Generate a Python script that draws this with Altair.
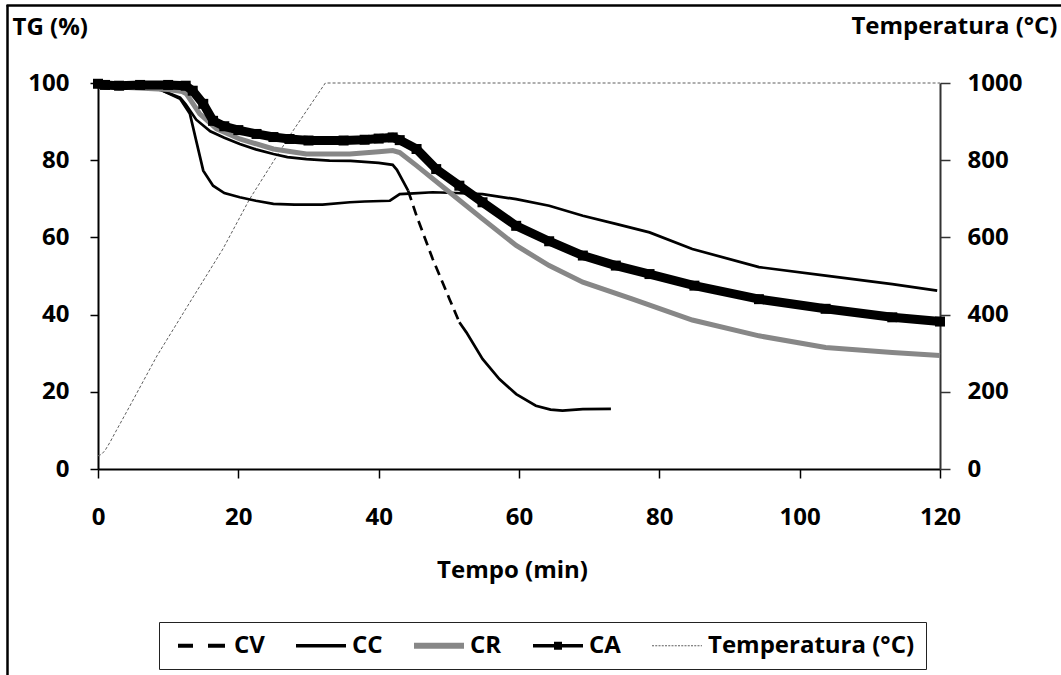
import altair as alt
import pandas as pd

FONT = "Open Sans"

# ---------------- data ----------------
series_names = ["CV", "CC", "CR", "CA", "Temperatura (°C)"]

cv_t = [0, 3, 6, 9, 11.7, 12.5, 14, 16, 18, 20.2, 22.5, 25, 27, 29.7, 33, 36, 40, 42, 42.6,
        44.2, 45.4, 47.7, 50.1, 51.5, 52.5, 54.8, 57.2, 59.6, 62.4, 64.5, 66.2, 69.1, 73.1]
cv_tg = [99.7, 99.2, 98.8, 98.2, 96.2, 94.5, 90.5, 87.5, 85.8, 84.2, 82.8, 81.6, 80.8, 80.3, 79.9,
         79.8, 79.3, 78.8, 77.5, 72.1, 65.6, 54.4, 44.0, 38.0, 35.4, 28.5, 23.3, 19.4, 16.4, 15.4,
         15.1, 15.5, 15.6]

cc_t = [0, 3, 6, 9, 11.7, 13.1, 14, 15, 16.4, 18, 20.2, 22.5, 25, 28, 32, 35.9, 38, 41.6, 43, 45,
        47.7, 51, 54.8, 59.6, 64.3, 69.1, 73.8, 78.6, 84.7, 94.2, 103.7, 113.2, 119.6]
cc_tg = [99.7, 99.2, 98.8, 98.2, 95.9, 92, 85, 77.3, 73.4, 71.5, 70.4, 69.5, 68.7, 68.5, 68.5,
         69.1, 69.3, 69.5, 71.2, 71.4, 71.7, 71.5, 71.2, 69.9, 68.2, 65.6, 63.5, 61.3, 57.0, 52.3,
         50.1, 47.9, 46.2]

cr_t = [0, 5, 10, 12, 12.6, 14.5, 16.9, 20.2, 25, 29.7, 35.9, 40, 42, 43, 45.4, 50.1, 54.8, 59.6,
        64.3, 69.1, 76.2, 84.7, 94.2, 103.7, 113.2, 120]
cr_tg = [99.2, 98.8, 98.3, 97.8, 97.2, 92, 88.1, 85.5, 82.9, 81.6, 81.6, 82.2, 82.5, 82.0, 78.6,
         71.7, 64.8, 57.9, 52.7, 48.4, 44.0, 38.6, 34.5, 31.5, 30.2, 29.4]

ca_t = [0, 1, 3, 6, 10, 12.5, 13.5, 15, 16.4, 18, 20, 22.6, 25, 27.3, 30, 35, 38, 40, 42, 43,
        45.4, 48.2, 51.5, 54.8, 59.6, 64.3, 69.1, 73.8, 78.6, 85, 94.2, 103.7, 113.2, 120]
ca_tg = [99.8, 99.5, 99.3, 99.5, 99.5, 99.3, 98, 94.6, 90.2, 88.8, 87.8, 86.8, 86, 85.5, 85.1,
         85.1, 85.3, 85.6, 85.9, 85.2, 82.9, 77.7, 73.4, 69.1, 63.0, 59.0, 55.3, 52.7, 50.5, 47.5,
         44.0, 41.5, 39.3, 38.2]

temp_t = [0, 0.5, 1, 1.7, 2.5, 4.5, 8.4, 13.1, 17.8, 21.6, 27.3, 32.4, 120]
temp_c = [34, 38, 48, 69, 96, 162, 293, 432, 570, 699, 863, 1000, 1000]

x_ticks = [0, 20, 40, 60, 80, 100, 120]
tg_ticks = [0, 20, 40, 60, 80, 100]
temp_ticks = [0, 200, 400, 600, 800, 1000]

# ---------------- styles ----------------
BLACK = "#000000"
GRAY = "#878787"
TGRAY = "#5e5e5e"
legend_colors = [BLACK, BLACK, GRAY, BLACK, TGRAY]


def rects(spans, half):
    return " ".join(
        f"M{a},{-half} L{b},{-half} L{b},{half} L{a},{half} Z" for a, b in spans
    )


# legend symbol unit = 12.5 px; symbols drawn from x=-1 to x=3 (50 px long)
dots = []
p = -1.0
while p < 2.95:
    dots.append((round(p, 3), round(min(p + 0.16, 3.0), 3)))
    p += 0.26
legend_paths = [
    rects([(-1, 0.2), (1.4, 2.76)], 0.16),
    rects([(-1, 3)], 0.14),
    rects([(-1, 3)], 0.24),
    rects([(-1, 3)], 0.14) + " " + rects([(0.68, 1.32)], 0.32),
    rects(dots, 0.045),
]

# ---------------- frames ----------------
cv_df = pd.DataFrame({"t": cv_t, "tg": cv_tg})
cv_solid = pd.concat([
    cv_df[cv_df.t <= 44.2].assign(part="a"),
    cv_df[cv_df.t >= 51.5].assign(part="c"),
])
cv_dash = cv_df[(cv_df.t >= 44.2) & (cv_df.t <= 51.5)]
cc_df = pd.DataFrame({"t": cc_t, "tg": cc_tg})
cr_df = pd.DataFrame({"t": cr_t, "tg": cr_tg})
ca_df = pd.DataFrame({"t": ca_t, "tg": ca_tg})
temp_df = pd.DataFrame({"t": temp_t, "temp": temp_c})
leg_df = pd.DataFrame({"series": series_names, "t": [0] * 5, "tg": [0] * 5})

# ---------------- encodings ----------------
x_enc = alt.X(
    "t:Q",
    scale=alt.Scale(domain=[0, 120], nice=False, zero=False),
    axis=alt.Axis(
        values=x_ticks, title="Tempo (min)", grid=False,
        labelFont=FONT, labelFontSize=24, labelFontWeight="bold", labelColor="black",
        labelPadding=27, labelFlush=False, labelOverlap=False,
        tickSize=9, tickColor="black", tickWidth=1.5,
        domainColor="black", domainWidth=2,
        titleFont=FONT, titleFontSize=24, titleFontWeight="bold", titleColor="black",
        titleAngle=0, titleAlign="center", titleBaseline="alphabetic",
        titleX=414, titleY=108,
    ),
)

y_tg = alt.Y(
    "tg:Q",
    scale=alt.Scale(domain=[0, 100], nice=False, zero=False),
    axis=alt.Axis(
        values=tg_ticks, title="TG (%)", grid=False, orient="left",
        labelFont=FONT, labelFontSize=24, labelFontWeight="bold", labelColor="black",
        labelPadding=21, labelOverlap=False,
        tickSize=8, tickColor="black", tickWidth=1.5,
        domainColor="black", domainWidth=2,
        titleFont=FONT, titleFontSize=24, titleFontWeight="bold", titleColor="black",
        titleAngle=0, titleAlign="left", titleBaseline="alphabetic",
        titleX=-86, titleY=-49,
    ),
)

y_temp = alt.Y(
    "temp:Q",
    scale=alt.Scale(domain=[0, 1000], nice=False, zero=False),
    axis=alt.Axis(
        values=temp_ticks, title="Temperatura (°C)", grid=False, orient="right", format="d",
        labelFont=FONT, labelFontSize=24, labelFontWeight="bold", labelColor="black",
        labelPadding=17, labelOverlap=False,
        tickSize=10, tickColor="#333333", tickWidth=1.5,
        domainColor="#333333", domainWidth=2,
        titleFont=FONT, titleFontSize=24, titleFontWeight="bold", titleColor="black",
        titleAngle=0, titleAlign="right", titleBaseline="alphabetic",
        titleX=117, titleY=-50,
    ),
)

legend = alt.Legend(
    orient="none", legendX=61, legendY=539, direction="horizontal", columns=5,
    title="\u00a0", titleOrient="left", titlePadding=8, titleFontSize=24,
    symbolSize=625, symbolStrokeWidth=0, symbolOpacity=1,
    labelFont=FONT, labelFontSize=24, labelFontWeight="bold", labelColor="black",
    labelOffset=31, columnPadding=31, padding=11, labelLimit=400,
    strokeColor="#222222", fillColor="white",
)

# ---------------- layers ----------------
cv_solid_layer = alt.Chart(cv_solid).mark_line(color=BLACK, strokeWidth=2.7).encode(
    x=x_enc, y=y_tg, detail="part:N", order="t:Q")
cv_dash_layer = alt.Chart(cv_dash).mark_line(color=BLACK, strokeWidth=2.7, strokeDash=[10, 6]).encode(
    x=x_enc, y=y_tg, order="t:Q")
cc_layer = alt.Chart(cc_df).mark_line(color=BLACK, strokeWidth=2.7).encode(x=x_enc, y=y_tg, order="t:Q")
cr_layer = alt.Chart(cr_df).mark_line(color=GRAY, strokeWidth=5).encode(x=x_enc, y=y_tg, order="t:Q")
ca_line = alt.Chart(ca_df).mark_line(color=BLACK, strokeWidth=9).encode(x=x_enc, y=y_tg, order="t:Q")
ca_pts = alt.Chart(ca_df).mark_square(color=BLACK, size=100, opacity=1).encode(x=x_enc, y=y_tg)

legend_layer = alt.Chart(leg_df).transform_filter("false").mark_point(filled=True, opacity=1).encode(
    x=x_enc, y=y_tg,
    color=alt.Color("series:N", scale=alt.Scale(domain=series_names, range=legend_colors), legend=legend),
    shape=alt.Shape("series:N", scale=alt.Scale(domain=series_names, range=legend_paths), legend=legend),
)

tg_group = alt.layer(cv_solid_layer, cv_dash_layer, cc_layer, cr_layer, ca_line, ca_pts, legend_layer)

temp_layer = alt.Chart(temp_df).mark_line(color=TGRAY, strokeWidth=1, strokeDash=[3, 2]).encode(
    x=x_enc, y=y_temp, order="t:Q")

frame_left = alt.Chart(pd.DataFrame({"a": [0]})).mark_rule(color="black", strokeWidth=2.5).encode(
    x=alt.value(-90.5), y=alt.value(-78), y2=alt.value(600))
frame_top = alt.Chart(pd.DataFrame({"a": [0]})).mark_rule(color="black", strokeWidth=2.5).encode(
    x=alt.value(-91.5), x2=alt.value(980), y=alt.value(-77.5))

chart = alt.layer(temp_layer, tg_group, frame_left, frame_top).resolve_scale(
    y="independent"
).properties(
    width=842, height=386,
    autosize=alt.AutoSizeParams(type="none"),
    padding={"left": 98, "top": 83, "right": 121, "bottom": 206},
    background="white",
).configure_view(stroke=None)

chart.save("out.html", embed_options={"renderer": "svg", "actions": False})
